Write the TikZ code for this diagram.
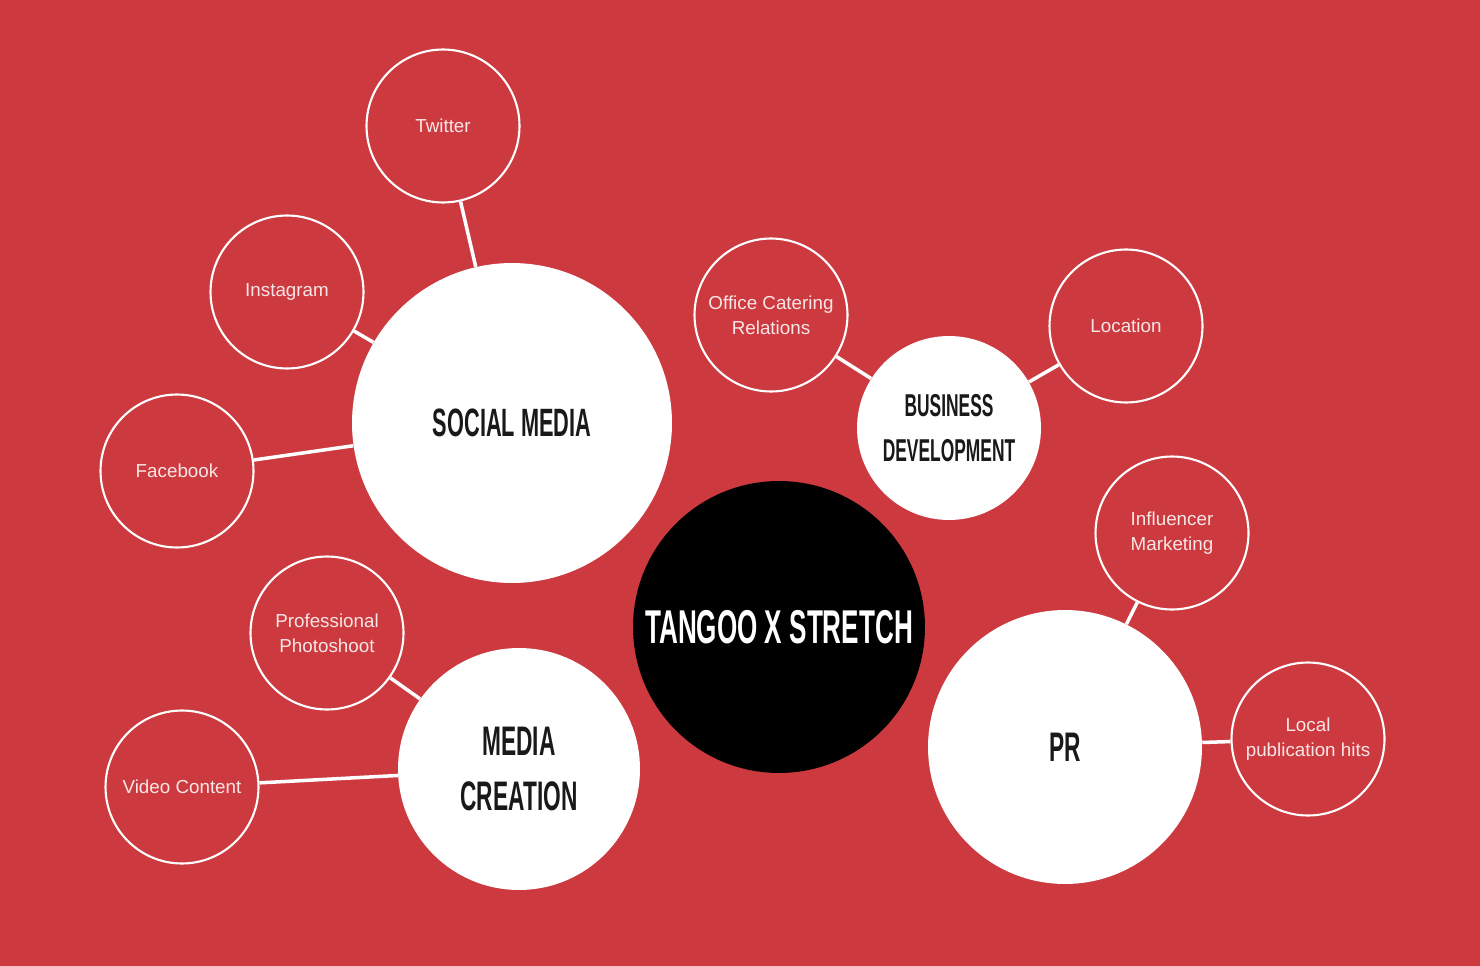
\documentclass[tikz,border=0pt]{standalone}
\usepackage{fontspec}
\setmainfont{Liberation Sans}
\newfontfamily\headfont[FakeStretch=0.55]{Liberation Sans Bold}
\usepackage{xcolor}
\definecolor{bgred}{HTML}{CC3A40}
\definecolor{leaftext}{HTML}{F8E6E6}

\begin{document}
\begin{tikzpicture}[x=0.02cm,y=-0.02cm]
        \tikzset{leaf/.style={circle,draw=white,line width=1.2pt,minimum size=3.06cm,
                inner sep=0pt,align=center,text=leaftext,font=\fontsize{10.7}{14.2}\selectfont},
            topic/.style={circle,fill=white,inner sep=0pt,align=center,text=black!90},
            hub/.style={circle,fill=black,inner sep=0pt,align=center,text=white,
                minimum size=5.84cm,font=\headfont\fontsize{27}{32}\selectfont},
            link/.style={draw=white,line width=2pt}}
        \fill[bgred] (0,0) rectangle (1480,966);
        \useasboundingbox (0,0) rectangle (1480,966);
        % main circles
        \node[hub] (center) at (779,627) {TANGOO X STRETCH};
        \node[topic,minimum size=6.4cm,font=\headfont\fontsize{22.5}{26}\selectfont]
            (social) at (512,423) {SOCIAL MEDIA};
        \node[topic,minimum size=3.68cm,font=\headfont\fontsize{18}{25.6}\selectfont]
            (business) at (949,428) {BUSINESS\\DEVELOPMENT};
        \node[topic,minimum size=4.84cm,font=\headfont\fontsize{23.5}{31.8}\selectfont]
            (media) at (519,769) {MEDIA\\CREATION};
        \node[topic,minimum size=5.48cm,font=\headfont\fontsize{23.5}{28}\selectfont]
            (pr) at (1065,747) {PR};
        % leaves
        \node[leaf] (twitter) at (443,126) {Twitter};
        \node[leaf] (instagram) at (287,292) {Instagram};
        \node[leaf] (facebook) at (177,471) {Facebook};
        \node[leaf] (catering) at (771,315) {Office Catering\\Relations};
        \node[leaf] (location) at (1126,326) {Location};
        \node[leaf] (influencer) at (1172,533) {Influencer\\Marketing};
        \node[leaf] (local) at (1308,739) {Local\\publication hits};
        \node[leaf] (photoshoot) at (327,633) {Professional\\Photoshoot};
        \node[leaf] (video) at (182,787) {Video Content};
        % links
        \draw[link] (twitter) -- (social);
        \draw[link] (instagram) -- (social);
        \draw[link] (facebook) -- (social);
        \draw[link] (catering) -- (business);
        \draw[link] (location) -- (business);
        \draw[link] (influencer) -- (pr);
        \draw[link] (local) -- (pr);
        \draw[link] (photoshoot) -- (media);
        \draw[link] (video) -- (media);
    \end{tikzpicture}
\end{document}
